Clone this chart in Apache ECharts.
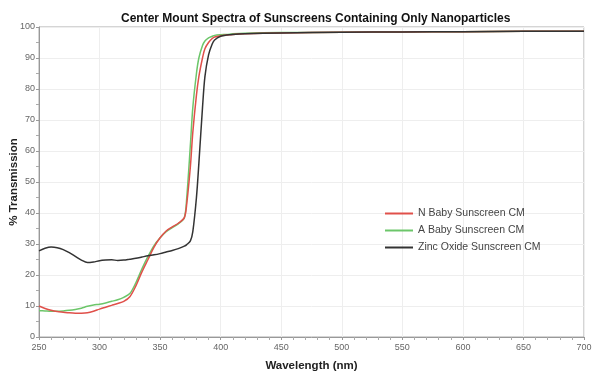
<!DOCTYPE html>
<html><head><meta charset="utf-8">
<script src="https://cdn.jsdelivr.net/npm/echarts@6/dist/echarts.min.js"></script>
<style>html,body{margin:0;padding:0;background:#fff}#c{width:600px;height:381px}</style>
</head><body><div id="c"></div>
<script>
const wavelengths = [250,255,260,265,270,275,280,285,290,295,300,305,310,315,320,325,330,335,340,345,350,355,360,365,370,372,375,377,380,382,385,387,390,393,395,400,405,410,420,450,500,550,600,650,700];
const nBaby = [10,9.2,8.6,8.2,8,7.8,7.7,7.7,7.8,8.3,9,9.6,10.2,10.8,11.5,13,16.5,21,25,29,32,34.2,35.5,36.7,38.5,43,55,66,78,84,90,93,95,96.3,96.8,97.2,97.4,97.6,97.8,98.1,98.3,98.4,98.5,98.6,98.6];
const aBaby = [8.5,8.4,8.3,8.3,8.4,8.6,8.9,9.3,9.9,10.3,10.6,11,11.5,12,12.8,14,17.5,22,26,29.5,32,34,35.3,36.5,38.5,45,62,74,85,90,94,95.5,96.5,97,97.3,97.5,97.6,97.8,98,98.2,98.3,98.4,98.5,98.6,98.6];
const zincOxide = [27.8,28.6,29,28.8,28.2,27.2,26,24.8,24,24.2,24.6,24.8,24.9,24.7,24.8,25.1,25.4,25.8,26.2,26.5,26.9,27.4,27.9,28.5,29.3,29.8,31,34,45,56,74,84,91,94.5,95.8,97,97.4,97.6,97.8,98.1,98.3,98.4,98.5,98.6,98.6];
const xTicks = [250,300,350,400,450,500,550,600,650,700];
const yTicks = [0,10,20,30,40,50,60,70,80,90,100];
const seriesNames = ['N Baby Sunscreen CM','A Baby Sunscreen CM','Zinc Oxide Sunscreen CM'];
const colors = ['#e0504a','#6cc66a','#333333'];

const pair = arr => wavelengths.map((w,i)=>[w,arr[i]]);
const chart = echarts.init(document.getElementById('c'));
chart.setOption({
  animation:false,
  title:{text:'Center Mount Spectra of Sunscreens Containing Only Nanoparticles',left:116,top:8,
    textStyle:{fontFamily:'Liberation Sans, Arial',fontSize:12,fontWeight:'bold',color:'#111'}},
  grid:{left:39,right:16,top:27,bottom:44,show:true,borderColor:'#aaa',borderWidth:1,outerBoundsMode:'none',containLabel:false},
  legend:{data:seriesNames,orient:'vertical',left:380,top:203,itemWidth:28,itemHeight:2,itemGap:6,
    icon:'rect',textStyle:{fontFamily:'Liberation Sans, Arial',fontSize:10.5,color:'#444'}},
  xAxis:{type:'value',min:250,max:700,interval:50,name:'Wavelength (nm)',nameLocation:'middle',nameGap:23,nameMoveOverlap:false,
    nameTextStyle:{fontFamily:'Liberation Sans, Arial',fontWeight:'bold',fontSize:11.5,color:'#222'},
    axisLine:{lineStyle:{color:'#999'}},axisTick:{show:true,length:3,lineStyle:{color:'#999'}},
    minorTick:{show:true,splitNumber:5,length:3,lineStyle:{color:'#aaa'}},
    axisLabel:{color:'#666',fontSize:9,fontFamily:'Liberation Sans, Arial',margin:6,
      formatter:v=>xTicks.includes(v)?String(v):''},
    splitLine:{show:true,lineStyle:{color:'#eee'}}},
  yAxis:{type:'value',min:0,max:100,interval:10,name:'% Transmission',nameLocation:'middle',nameGap:19,nameMoveOverlap:false,
    nameTextStyle:{fontFamily:'Liberation Sans, Arial',fontWeight:'bold',fontSize:11.5,color:'#222'},
    axisLine:{show:true,lineStyle:{color:'#999'}},axisTick:{show:true,length:3,lineStyle:{color:'#999'}},
    minorTick:{show:true,splitNumber:2,length:3,lineStyle:{color:'#aaa'}},
    axisLabel:{color:'#666',fontSize:9,fontFamily:'Liberation Sans, Arial',margin:4,
      formatter:v=>yTicks.includes(v)?String(v):''},
    splitLine:{show:true,lineStyle:{color:'#eee'}}},
  series:[
    {name:seriesNames[0],type:'line',data:pair(nBaby),smooth:0.3,showSymbol:false,lineStyle:{width:1.5,color:colors[0]},itemStyle:{color:colors[0]},z:3},
    {name:seriesNames[1],type:'line',data:pair(aBaby),smooth:0.3,showSymbol:false,lineStyle:{width:1.5,color:colors[1]},itemStyle:{color:colors[1]},z:2},
    {name:seriesNames[2],type:'line',data:pair(zincOxide),smooth:0.3,showSymbol:false,lineStyle:{width:1.5,color:colors[2]},itemStyle:{color:colors[2]},z:4}
  ]
});
</script></body></html>
